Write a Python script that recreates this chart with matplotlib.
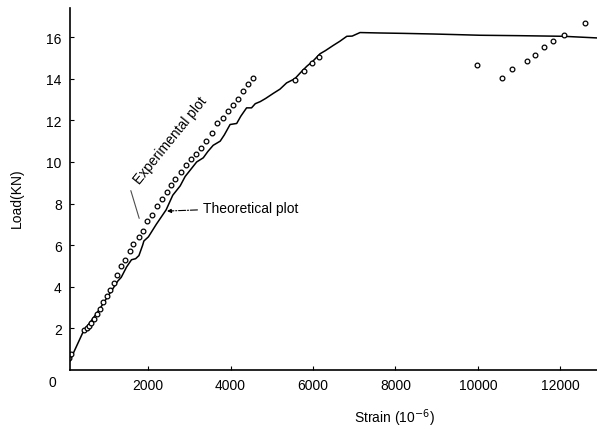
import matplotlib
matplotlib.use('Agg')
import matplotlib.pyplot as plt

plt.rcParams['font.family'] = ['Liberation Sans', 'DejaVu Sans']
plt.rcParams['font.size'] = 10

# theoretical curve (strain 1e-6, load kN)
theo_strain = [60, 420, 800, 1270, 1350, 1480, 1600, 1700, 1780, 1870, 1900, 2010,
               2200, 2440, 2600, 2780, 2900, 3000, 3180, 3340, 3450, 3580, 3750, 3850,
               3990, 4150, 4250, 4390, 4510, 4600, 4720, 4850, 5040, 5200, 5360, 5560,
               5700, 5850, 6000, 6170, 6300, 6490, 6650, 6820, 6950, 7140, 7600, 8200,
               8920, 9500, 10050, 11000, 12070, 12900]
theo_load = [0.25, 1.8, 2.85, 4.28, 4.45, 4.95, 5.3, 5.35, 5.5, 6.0, 6.2, 6.4,
             7.0, 7.7, 8.4, 8.85, 9.3, 9.55, 10.0, 10.2, 10.5, 10.8, 11.0, 11.3,
             11.8, 11.85, 12.2, 12.6, 12.6, 12.8, 12.9, 13.05, 13.3, 13.5, 13.8, 14.0,
             14.3, 14.6, 14.85, 15.2, 15.35, 15.6, 15.8, 16.04, 16.05, 16.22, 16.2, 16.18,
             16.15, 16.12, 16.09, 16.07, 16.04, 15.96]

# experimental points
exp_strain = [85, 140, 450, 510, 570, 630, 700, 770, 840, 920, 1000, 1080, 1170,
              1250, 1350, 1440, 1560, 1640, 1780, 1880, 1980, 2100, 2220, 2330, 2450,
              2550, 2660, 2790, 2920, 3040, 3160, 3290, 3410, 3540, 3680, 3810, 3950,
              4070, 4190, 4310, 4430, 4550,
              5560, 5770, 5970, 6150,
              9980, 10570, 10830, 11180, 11390, 11610, 11830, 12090, 12590]
exp_load = [0.6, 0.75, 1.9, 2.02, 2.12, 2.27, 2.45, 2.68, 2.92, 3.25, 3.55, 3.85, 4.2,
            4.55, 5.0, 5.3, 5.7, 6.05, 6.4, 6.7, 7.15, 7.45, 7.9, 8.2, 8.55,
            8.9, 9.2, 9.5, 9.85, 10.15, 10.4, 10.65, 11.0, 11.4, 11.85, 12.1, 12.45,
            12.75, 13.05, 13.4, 13.75, 14.05,
            13.96, 14.36, 14.76, 15.05,
            14.68, 14.04, 14.47, 14.84, 15.16, 15.53, 15.8, 16.09, 16.68]

x_ticks = [2000, 4000, 6000, 8000, 10000, 12000]
y_ticks = [2, 4, 6, 8, 10, 12, 14, 16]

W, H = 597, 431
fig = plt.figure(figsize=(W/100, H/100), dpi=100)
ax = fig.add_axes([70/W, (H-371)/H, (W-70)/W, (371-9)/H])

ax.plot(theo_strain, theo_load, color='black', lw=1.1)
ax.plot(exp_strain, exp_load, linestyle='none', marker='o', ms=3.4,
        mfc='white', mec='black', mew=0.9)

ax.set_xlim(109, 12885)
ax.set_ylim(0, 17.4)
ax.set_xticks(x_ticks)
ax.set_yticks(y_ticks)
ax.tick_params(direction='in', length=3, width=0.8, pad=6)
for s in ['top', 'right']:
    ax.spines[s].set_visible(False)
ax.spines['left'].set_linewidth(1.2)
ax.spines['bottom'].set_linewidth(1.2)

fig.text(52/W, 1-383/H, '0', ha='center', va='center')
fig.text(17/W, 1-198/H, 'Load(KN)', rotation=90, ha='center', va='center')
fig.text(394/W, 1-418/H, 'Strain (10$^{-6}$)', ha='center', va='center')

ax.text(2533, 11.06, 'Experimental plot', rotation=51, ha='center', va='center',
        rotation_mode='anchor')
ax.annotate('', xy=(1806, 7.16), xytext=(1564, 8.75),
            arrowprops=dict(arrowstyle='-', color='0.3', lw=0.8))
ax.annotate('Theoretical plot', xy=(2461, 7.64), xytext=(3333, 7.79),
            ha='left', va='center',
            arrowprops=dict(arrowstyle='-|>', linestyle='-.', color='black',
                            lw=0.8, mutation_scale=6, shrinkA=2, shrinkB=0))

fig.savefig('out.png', dpi=100)
